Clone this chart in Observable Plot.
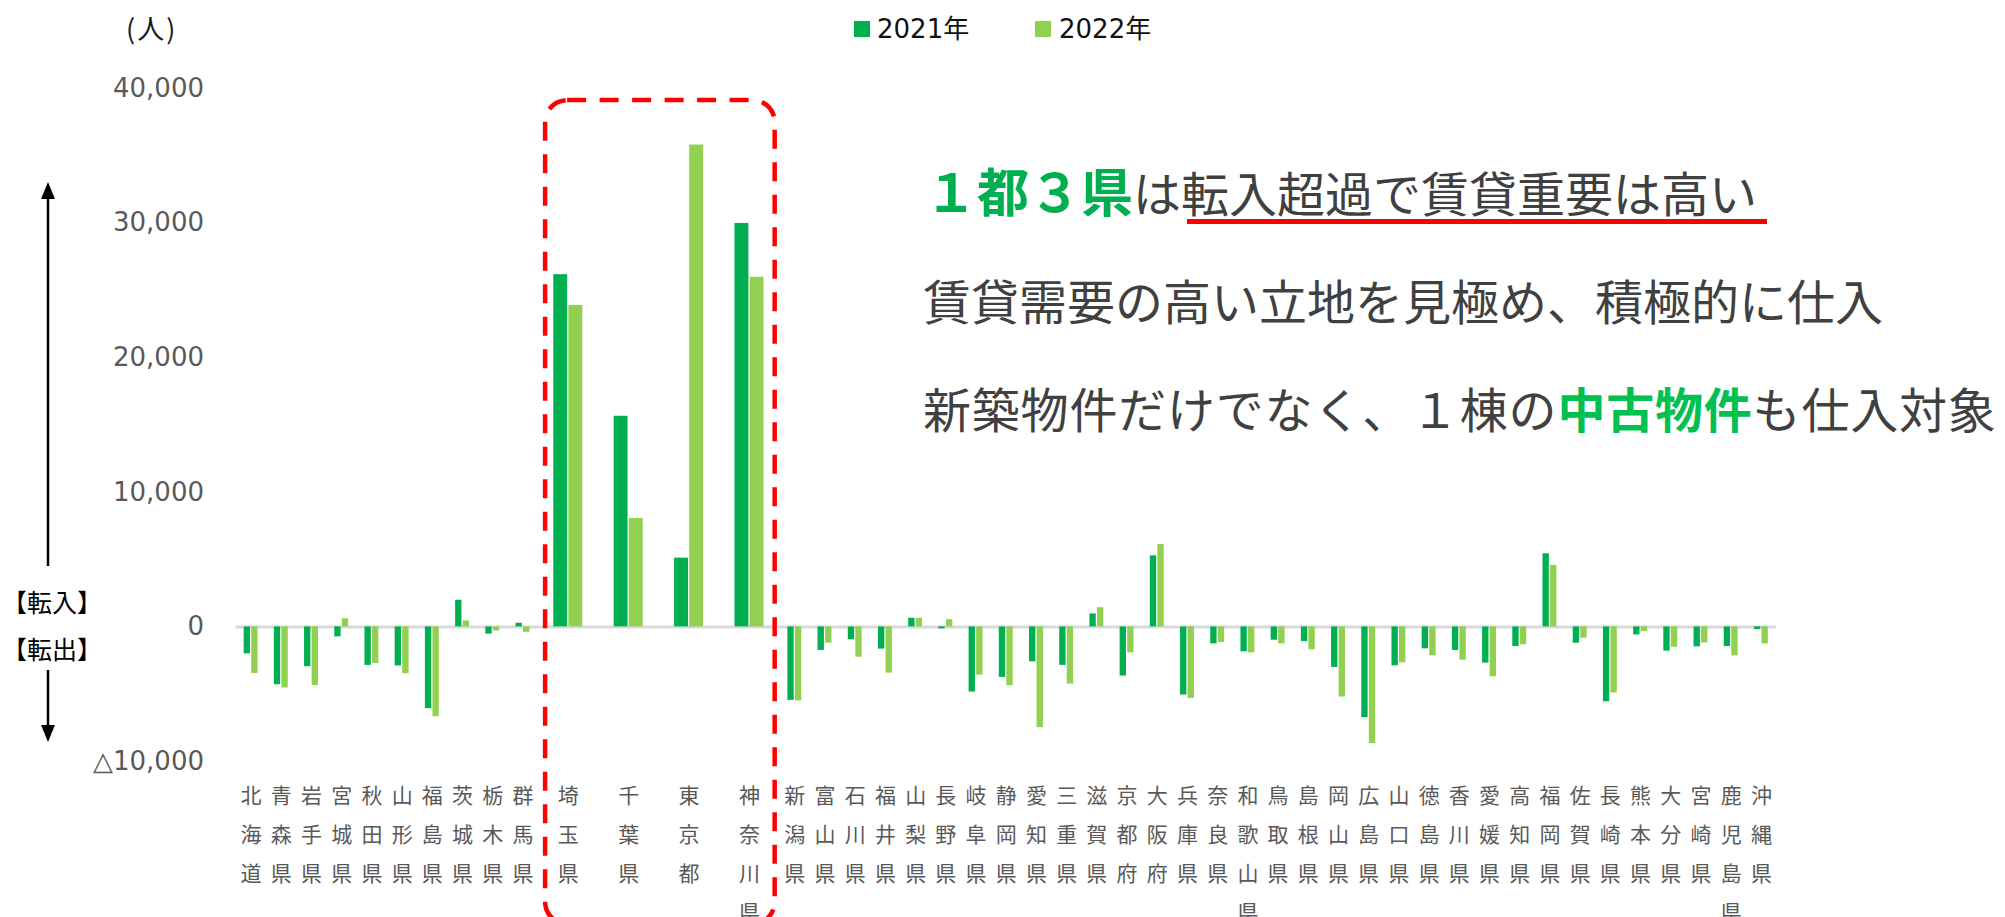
<!DOCTYPE html>
<html><head><meta charset="utf-8">
<script src="https://cdn.jsdelivr.net/npm/d3@7"></script>
<script src="https://cdn.jsdelivr.net/npm/@observablehq/plot@0.6"></script>
<style>
html,body{margin:0;padding:0;background:#fff;}
#wrap{position:relative;width:2005px;height:917px;overflow:hidden;font-family:"Noto Sans CJK JP",sans-serif;}
#chart{position:absolute;left:0;top:0;}
.abs{position:absolute;white-space:nowrap;}
.ann{font-family:"Noto Sans CJK JP",sans-serif;color:#404040;font-size:48px;line-height:56px;}
.leg{font-family:"DejaVu Sans","Noto Sans CJK JP",sans-serif;font-size:26px;line-height:32px;color:#111;}
.sq{position:absolute;width:16px;height:16px;}
.io{position:absolute;left:2px;font-size:25px;line-height:30px;color:#000;font-weight:normal;white-space:nowrap;}
.io span{display:inline-block;width:1em;text-align:center;}
.io span.op{text-align:right;}
.io span.cl{text-align:left;}
</style></head><body>
<div id="wrap">
<div id="chart"></div>
<div class="abs" style="left:126px;top:12px;font-size:27px;line-height:32px;color:#1a1a1a;letter-spacing:2px;">(人)</div>
<div class="sq" id="sq0" style="left:854px;top:21px;"></div>
<div class="abs leg" id="lg0" style="left:877px;top:13px;"></div>
<div class="sq" id="sq1" style="left:1035px;top:21px;"></div>
<div class="abs leg" id="lg1" style="left:1059px;top:13px;"></div>
<svg class="abs" style="left:0;top:0" width="110" height="917">
  <line x1="48" y1="566" x2="48" y2="196" stroke="#000" stroke-width="2.5"/>
  <polygon points="48,182 41,199 55,199" fill="#000"/>
  <line x1="48" y1="670" x2="48" y2="728" stroke="#000" stroke-width="2.5"/>
  <polygon points="48,742 41,725 55,725" fill="#000"/>
</svg>
<div class="io" style="top:586px;"><span class="op">【</span><span>転</span><span>入</span><span class="cl">】</span></div>
<div class="io" style="top:633px;"><span class="op">【</span><span>転</span><span>出</span><span class="cl">】</span></div>
<div class="abs ann" style="left:925px;top:162px;"><span style="color:#00B050;font-weight:bold;font-size:52px;">１都３県</span>は転入超過で賃貸重要は高い</div>
<div class="abs" style="left:1187px;top:219px;width:580px;height:4.5px;background:#ff0000;"></div>
<div class="abs ann" style="left:923px;top:271px;">賃貸需要の高い立地を見極め、積極的に仕入</div>
<div class="abs ann" style="left:923px;top:379px;letter-spacing:0.8px;">新築物件だけでなく、１棟の<span style="color:#00C04F;font-weight:bold;">中古物件</span>も仕入対象</div>
</div>
<script>
const prefectures = ["北海道","青森県","岩手県","宮城県","秋田県","山形県","福島県","茨城県","栃木県","群馬県","埼玉県","千葉県","東京都","神奈川県","新潟県","富山県","石川県","福井県","山梨県","長野県","岐阜県","静岡県","愛知県","三重県","滋賀県","京都府","大阪府","兵庫県","奈良県","和歌山県","鳥取県","島根県","岡山県","広島県","山口県","徳島県","香川県","愛媛県","高知県","福岡県","佐賀県","長崎県","熊本県","大分県","宮崎県","鹿児島県","沖縄県"];
const capitalArea = ["埼玉県","千葉県","東京都","神奈川県"];
const years = ["2021年","2022年"];
const net2021 = [-2000,-4300,-2960,-740,-2860,-2900,-6070,1980,-540,270,26170,15650,5110,29975,-5460,-1750,-960,-1650,640,-150,-4840,-3750,-2590,-2860,960,-3650,5280,-5060,-1260,-1850,-990,-1090,-3010,-6740,-2890,-1630,-1750,-2690,-1460,5430,-1210,-5560,-600,-1800,-1480,-1460,-200];
const net2022 = [-3460,-4540,-4350,600,-2720,-3480,-6670,440,-300,-400,23880,8050,35800,25975,-5500,-1210,-2250,-3430,640,540,-3580,-4370,-7480,-4250,1430,-1930,6120,-5310,-1160,-1930,-1260,-1700,-5210,-8670,-2670,-2150,-2470,-3700,-1330,4570,-840,-4910,-350,-1510,-1190,-2150,-1260];
const yTicks = [-10000,0,10000,20000,30000,40000];
const seriesColors = ["#00B050","#92D050"];

// category slots: the 1都3県 panel is drawn twice as wide
let acc = 0;
const slots = prefectures.map(p => {
  const w = capitalArea.includes(p) ? 2 : 1;
  const s = {pref: p, x0: acc, x1: acc + w, w};
  acc += w;
  return s;
});
const total = acc;
const bars = [];
slots.forEach((s, i) => {
  bars.push({pref: s.pref, year: years[0], value: net2021[i], x1: s.x0 + 0.25 * s.w, x2: s.x0 + 0.5 * s.w});
  bars.push({pref: s.pref, year: years[1], value: net2022[i], x1: s.x0 + 0.5 * s.w, x2: s.x0 + 0.75 * s.w});
});
const cap = slots.filter(s => capitalArea.includes(s.pref));
const frame = [{x1: cap[0].x0 + 0.25, x2: cap[cap.length - 1].x1 - 0.15, y1: 39100, y2: -22100}];
const fmt = d3.format(",");

const chart = Plot.plot({
  width: 2005, height: 917,
  marginTop: 88, marginBottom: 156, marginLeft: 235.5, marginRight: 229,
  style: {fontFamily: '"DejaVu Sans","Noto Sans CJK JP",sans-serif', background: "transparent", overflow: "visible"},
  x: {domain: [0, total], axis: null},
  y: {domain: [-10000, 40000], axis: null},
  color: {domain: years, range: seriesColors},
  marks: [
    Plot.ruleY([0], {stroke: "#d9d9d9", strokeWidth: 3}),
    Plot.rect(bars, {x1: "x1", x2: "x2", y1: () => 0, y2: "value", fill: "year", insetLeft: 0.6, insetRight: 0.6}),
    Plot.axisY({ticks: yTicks, tickSize: 0, tickPadding: 32, fontSize: 26, fill: "#595959",
      tickFormat: d => d < 0 ? "△" + fmt(-d) : fmt(d)}),
    Plot.text(slots, {x: d => (d.x0 + d.x1) / 2, text: d => Array.from(d.pref).join("\n"),
      frameAnchor: "bottom", lineAnchor: "top", dy: 14, lineHeight: 1.857, fontSize: 21,
      fill: "#595959", fontFamily: "Noto Sans CJK JP"}),
    Plot.rect(frame, {x1: "x1", x2: "x2", y1: "y1", y2: "y2", stroke: "#ff0000", strokeWidth: 4.5,
      strokeDasharray: "19 13.5", fill: "none", rx: 22, clip: false})
  ]
});
document.getElementById("chart").appendChild(chart);
years.forEach((y, i) => {
  document.getElementById("sq" + i).style.background = seriesColors[i];
  document.getElementById("lg" + i).textContent = y;
});
</script>
</body></html>
